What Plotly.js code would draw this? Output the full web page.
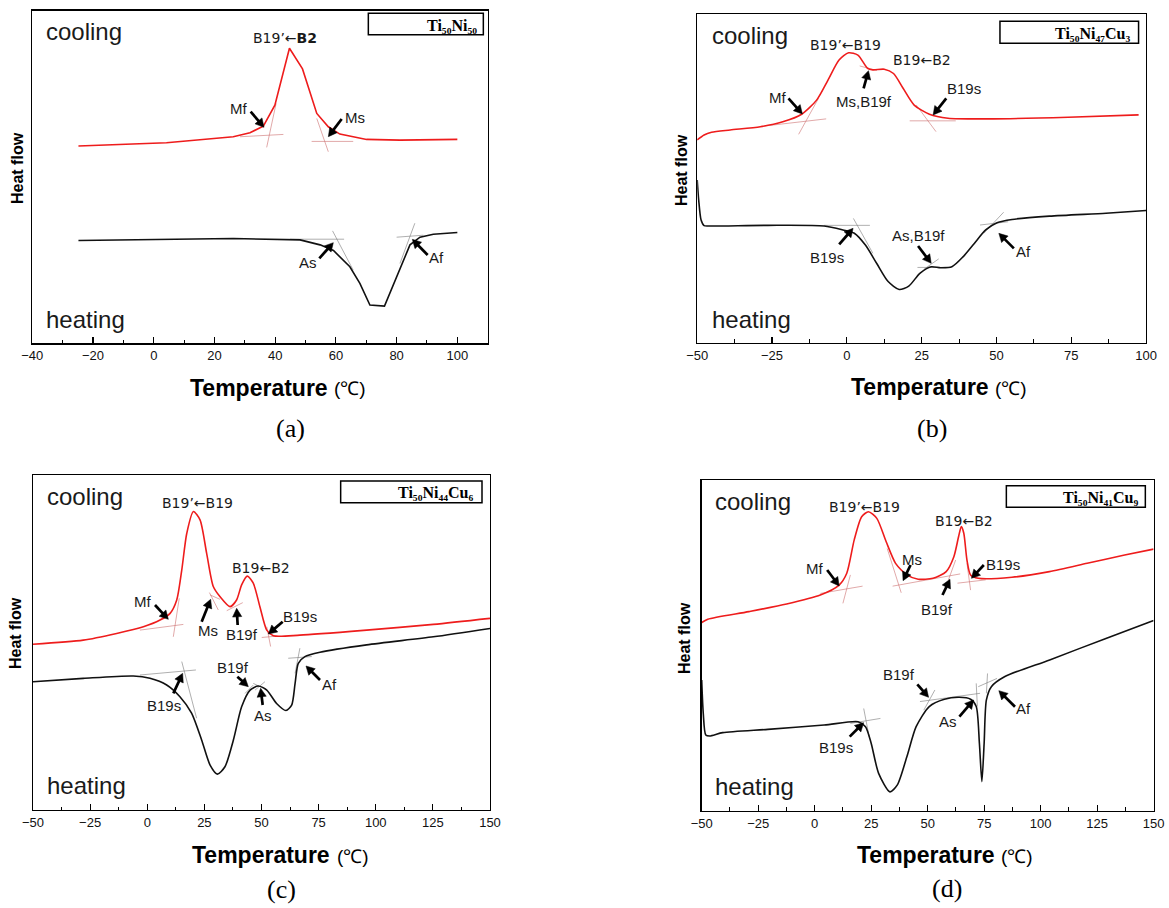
<!DOCTYPE html>
<html>
<head>
<meta charset="utf-8">
<script src="https://cdn.plot.ly/plotly-3.0.1.min.js"></script>
<style>html,body{margin:0;padding:0;background:#fff;}#chart{width:1169px;height:908px;}</style>
</head>
<body>
<div id="chart"></div>
<script>
// ---------------- DATA (temperature in °C, heat flow in arbitrary units 0-100) ----------------
// (a) Ti50Ni50
const aCoolT = [-24.8, 4.2, 26.2, 31.7, 36.1, 39.9, 44.7, 49.0, 53.7, 57.5, 61.3, 70.1, 81.1, 100];
const aCoolQ = [59.3, 60.3, 62.1, 63.3, 65.3, 71.6, 88.7, 82.5, 69.1, 65.1, 62.9, 61.3, 61.1, 61.3];
const aHeatT = [-24.8, 26.2, 48.2, 54.8, 59.2, 64.6, 67.9, 71.2, 76.0, 80.6, 84.4, 87.7, 92.1, 100];
const aHeatQ = [30.9, 31.5, 31.1, 29.6, 27.9, 23.0, 18.0, 11.5, 11.2, 21.0, 29.6, 31.9, 32.8, 33.3];

// (b) Ti50Ni47Cu3
const bCoolT = [-50, -47.7, -45.2, -39.0, -28.9, -21.4, -15.1, -10.1, -6.3, -2.6, 0.6, 3.7, 6.9, 8.7, 12.5, 15.6, 18.8, 22.5, 27.6, 33.8, 48.9, 74.0, 97.5];
const bCoolQ = [61.7, 63.2, 64.0, 64.7, 65.7, 67.2, 69.5, 73.8, 79.9, 86.0, 88.2, 87.5, 83.5, 83.0, 83.2, 81.9, 77.4, 72.3, 69.5, 68.3, 68.1, 68.6, 69.3];
const bHeatT = [-50, -49.5, -48.7, -47.7, -45.9, -26.4, -7.6, -1.3, 2.5, 6.2, 10.0, 13.8, 17.5, 20.7, 24.4, 28.2, 31.3, 35.1, 38.9, 42.6, 46.4, 50.2, 55.2, 67.7, 86.6, 100];
const bHeatQ = [49.5, 43.4, 37.3, 35.6, 35.5, 35.7, 35.5, 34.3, 33.3, 29.7, 24.1, 18.6, 16.2, 17.2, 21.1, 23.1, 22.8, 23.1, 26.2, 30.2, 34.3, 36.5, 37.5, 38.5, 39.4, 40.2];

// (c) Ti50Ni44Cu6
const cCoolT = [-50, -28.0, -13.4, -1.7, 5.6, 10.0, 12.9, 15.1, 17.3, 20.2, 23.1, 26.0, 28.9, 31.8, 36.2, 39.1, 41.3, 43.8, 46.4, 49.3, 52.3, 55.2, 66.8, 96.0, 125.2, 150];
const cCoolQ = [49.5, 50.7, 52.7, 54.7, 56.7, 58.7, 62.7, 71.6, 82.6, 89.1, 86.6, 76.6, 66.7, 63.7, 60.7, 62.7, 67.2, 69.8, 67.7, 60.7, 53.7, 52.0, 52.2, 53.7, 55.4, 57.2];
const cHeatT = [-50, -28.0, -6.1, 1.2, 8.5, 14.3, 19.4, 23.8, 27.5, 30.7, 34.0, 37.7, 41.3, 45.0, 48.6, 52.3, 56.6, 60.7, 63.2, 64.7, 66.1, 69.0, 75.6, 96.0, 125.2, 150];
const cHeatQ = [38.3, 39.3, 40.0, 39.3, 37.3, 33.8, 28.9, 20.9, 13.4, 10.7, 12.9, 20.9, 30.8, 35.8, 37.0, 35.8, 31.8, 29.7, 31.3, 37.8, 43.8, 45.8, 47.1, 49.3, 51.7, 54.2];

// (d) Ti50Ni41Cu9
const dCoolT = [-50, -47.3, -29.1, -12.4, 2.5, 10.8, 14.2, 17.5, 20.8, 23.8, 27.5, 31.6, 35.8, 40.8, 45.8, 52.4, 58.2, 61.6, 63.7, 64.9, 66.0, 67.4, 69.0, 72.4, 87.3, 103.9, 120.6, 137.2, 150];
const dCoolQ = [56.9, 57.9, 60.2, 62.5, 65.2, 68.2, 71.8, 81.9, 88.9, 90.4, 88.4, 81.4, 74.8, 71.3, 70.0, 70.3, 72.3, 76.8, 82.9, 85.9, 83.9, 75.8, 71.3, 70.3, 70.6, 72.3, 74.8, 77.3, 79.1];
const dHeatT = [-50, -49.3, -48.2, -46.5, -40.7, -20.7, 4.2, 19.2, 22.5, 25.0, 28.3, 33.3, 36.6, 40.8, 44.9, 50.7, 57.4, 64.0, 69.0, 71.5, 72.9, 74.0, 75.0, 76.0, 78.2, 84.0, 104.0, 128.9, 150];
const dHeatQ = [39.5, 29.4, 22.9, 22.6, 23.6, 24.6, 25.9, 26.9, 25.4, 20.4, 11.3, 5.7, 7.8, 16.3, 25.4, 31.5, 33.7, 34.3, 33.7, 31.5, 20.4, 8.8, 20.4, 33.5, 37.5, 40.5, 45.6, 52.1, 57.5];

// Onset tangent construction lines [T0, Q0, T1, Q1]
const aTanCool = [[28.4,62.1,42.7,62.8],[37.2,58.9,40.3,72.1],[52.0,60.7,65.7,60.7],[53.7,67.6,57.5,57.6]];
const aTanHeat = [[44.9,31.3,62.7,31.3],[58.9,33.8,65.7,22.0],[80.0,31.9,88.8,32.5],[86.0,36.1,81.1,24.0]];
const bTanCool = [[-27.7,65.9,-6.9,68.1],[-16.1,63.4,-9.5,74.3],[21.0,67.5,36.4,67.5],[23.2,72.3,29.8,64.2],[4.3,84.2,10.0,82.8]];
const bTanHeat = [[-7.6,35.7,7.7,35.7],[2.2,37.8,8.7,27.2],[23.6,22.9,33.2,22.9],[25.7,22.3,30.7,25.5],[44.5,35.8,53.9,36.8],[52.4,39.7,45.8,33.3]];
const cTanCool = [[-3.2,53.7,15.8,55.4],[11.4,51.7,14.0,63.2],[27.2,64.9,31.1,59.7],[27.5,64.2,31.8,62.9],[34.8,59.5,41.8,61.9],[50.1,51.5,56.6,51.9],[52.3,54.7,54.0,48.8]];
const cTanHeat = [[-3.2,40.3,21.3,41.8],[15.1,44.3,21.6,27.4],[42.8,34.8,46.4,37.3],[46.4,37.8,52.3,35.8],[47.2,35.8,51.5,38.3],[61.7,45.3,72.0,45.8],[64.7,40.8,66.8,48.3]];
const dTanCool = [[2.5,65.7,21.2,67.9],[12.5,62.7,15.8,71.3],[34.5,67.9,64.4,71.6],[32.1,79.3,38.3,65.9],[59.1,69.6,62.4,75.8],[63.2,68.8,75.7,69.8],[67.4,74.8,69.0,66.7]];
const dTanHeat = [[15.8,26.4,29.1,27.9],[21.7,30.9,24.1,22.4],[46.6,33.0,73.2,35.5],[48.3,30.4,53.2,36.5],[71.5,38.5,72.0,31.5],[72.4,37.5,80.7,40.0],[76.5,41.5,76.0,35.5]];

// Text labels
const alloyNames = ['Ti₅₀Ni₅₀','Ti₅₀Ni₄₇Cu₃','Ti₅₀Ni₄₄Cu₆','Ti₅₀Ni₄₁Cu₉'];
const panelLetters = ['(a)','(b)','(c)','(d)'];
const xTitleMain = 'Temperature', xTitleUnit = '(℃)';
const yTitle = 'Heat flow';

// ---------------- LAYOUT HELPERS ----------------
const W = 1169, H = 908;
const panels = ['a','b','c','d'];
// plot-area boxes in page pixels [left, top, right, bottom]
const box = {a:[32.3,10.7,487.7,343.3], b:[697.2,14,1146.1,342.7], c:[33,475,490,810], d:[701.7,480,1153.6,810.7]};
const xr = {a:[-40,110], b:[-50,100], c:[-50,150], d:[-50,150]};
const dt = {a:20, b:25, c:25, d:25};
// local placement frames (origin + scale) used for label positions
const Z = {a:{ox:0,oy:0,sx:3,sy:3}, b:{ox:580,oy:0,sx:1568/589,sy:3}, c:{ox:0,oy:460,sx:3,sy:3}, d:{ox:580,oy:460,sx:1568/589,sy:3}};
function P(p,zx,zy){const z=Z[p];return [z.ox+zx/z.sx, z.oy+zy/z.sy];}

const labelPos = {
  a:{peaks:[['B19’←<b>B2</b>',855,115]],
     labels:[['Mf',715,325],['Ms',1066,352],['As',925,788],['Af',1310,773]],
     arrows:[[752,335,792,382],[1025,357,985,410],[958,775,1000,728],[1283,765,1237,718]],
     cool:[133,95], heat:[133,958], leg:[1105,40,1450,104,1437]},
  b:{peaks:[['B19’←B19',708,135],['B19←B2',910,180]],
     labels:[['Mf',525,292],['Ms,B19f',757,305],['B19s',1022,265],['B19s',657,773],['As,B19f',900,706],['Af',1180,755]],
     arrows:[[555,295,592,342],[755,265,768,212],[975,295,940,345],[690,733,727,685],[900,738,935,790],[1155,745,1115,700]],
     cool:[345,105], heat:[345,958], leg:[1118,64,1487,130,1470]},
  c:{peaks:[['B19’←B19',593,128],['B19←B2',783,323]],
     labels:[['Mf',428,425],['Ms',625,510],['B19f',727,522],['B19s',900,468],['B19s',493,737],['B19f',700,623],['As',790,765],['Af',990,672]],
     arrows:[[465,435,505,478],[605,485,632,418],[713,495,710,445],[848,485,805,522],[520,700,548,640],[712,650,745,680],[788,735,782,685],[960,660,918,618]],
     cool:[135,110], heat:[135,975], leg:[1022,63,1446,128,1425]},
  d:{peaks:[['B19’←B19',757,140],['B19←B2',1022,183]],
     labels:[['Mf',625,325],['Ms',885,298],['B19f',950,448],['B19s',1125,313],['B19s',682,862],['B19f',850,643],['As',980,783],['Af',1180,745]],
     arrows:[[658,330,690,378],[880,315,860,362],[965,405,985,358],[1075,315,1042,355],[718,830,755,788],[898,673,928,712],[1010,770,1048,720],[1158,740,1115,692]],
     cool:[355,125], heat:[355,980], leg:[1135,77,1505,142,1490]}
};
// [right edge of "Temperature", left edge of "(℃)", centre y] in page pixels
const xTitlePos = {a:[330,332,388], b:[991,993,387], c:[332,335,855], d:[997,999,855]};
const yTitlePos = {a:[17,168], b:[681,170], c:[15,633], d:[684,638]};
const letterPos = {a:[290,428], b:[932,428], c:[281,889], d:[947,888]};

const curves = {
  a:[aCoolT,aCoolQ,aHeatT,aHeatQ,aTanCool,aTanHeat,'linear'],
  b:[bCoolT,bCoolQ,bHeatT,bHeatQ,bTanCool,bTanHeat,'spline'],
  c:[cCoolT,cCoolQ,cHeatT,cHeatQ,cTanCool,cTanHeat,'spline'],
  d:[dCoolT,dCoolQ,dHeatT,dHeatQ,dTanCool,dTanHeat,'spline']
};

const SANS = 'Liberation Sans, Arial, sans-serif';
const PEAKF = 'DejaVu Sans, Liberation Sans, sans-serif';
const SERIF = 'Liberation Serif, DejaVu Serif, Times New Roman, serif';
const traces = [], annotations = [], shapes = [];
const layout = {width:W, height:H, margin:{l:0,r:0,t:0,b:0}, showlegend:false,
  paper_bgcolor:'#fff', plot_bgcolor:'#fff', annotations, shapes};

function tanXY(list){const x=[],y=[];list.forEach(s=>{x.push(s[0],s[2],null);y.push(s[1],s[3],null);});return [x,y];}
const fx = v => (v/W).toFixed(5), fy = v => (1-v/H).toFixed(5);
// bold arrow drawn as shaft + filled head (page pixel geometry -> paper coordinates)
function arrowShapes(t,h){
  const dx=h[0]-t[0], dy=h[1]-t[1], len=Math.hypot(dx,dy), ux=dx/len, uy=dy/len;
  const HL=8.5, HW=4.6;
  const bx=h[0]-ux*HL, by=h[1]-uy*HL;
  const sx=h[0]-ux*(HL-1), sy=h[1]-uy*(HL-1);
  shapes.push({type:'line',xref:'paper',yref:'paper',x0:t[0]/W,y0:1-t[1]/H,x1:sx/W,y1:1-sy/H,line:{color:'#000',width:2.7},layer:'above'});
  const p1=[bx-uy*HW, by+ux*HW], p2=[bx+uy*HW, by-ux*HW];
  shapes.push({type:'path',xref:'paper',yref:'paper',
    path:`M ${fx(h[0])} ${fy(h[1])} L ${fx(p1[0])} ${fy(p1[1])} L ${fx(p2[0])} ${fy(p2[1])} Z`,
    fillcolor:'#000',line:{color:'#000',width:0.5},layer:'above'});
}

panels.forEach((p,i)=>{
  const n = i===0?'':String(i+1);
  const xa='x'+n, ya='y'+n;
  const b = box[p];
  layout['xaxis'+n] = {domain:[b[0]/W, b[2]/W], range:xr[p], anchor:ya,
    showline:true, mirror:true, linecolor:'#000', linewidth:1.3,
    ticks:'inside', ticklen:6, tickwidth:1.1, tickcolor:'#000', tick0:0, dtick:dt[p],
    minor:{ticks:'inside', ticklen:3.5, tickwidth:1, tickcolor:'#000', dtick:dt[p]/2, showgrid:false},
    showgrid:false, zeroline:false, tickfont:{family:SANS, size:13, color:'#111'}, fixedrange:true};
  layout['yaxis'+n] = {domain:[1-b[3]/H, 1-b[1]/H], range:[0,100], anchor:xa,
    showline:true, mirror:true, linecolor:'#000', linewidth:1.3,
    showticklabels:false, ticks:'', showgrid:false, zeroline:false, fixedrange:true};

  const c = curves[p];
  const tc = tanXY(c[4]), th = tanXY(c[5]);
  traces.push({x:tc[0], y:tc[1], xaxis:xa, yaxis:ya, mode:'lines', line:{color:'rgba(205,110,110,0.75)', width:0.8}, hoverinfo:'skip'});
  traces.push({x:th[0], y:th[1], xaxis:xa, yaxis:ya, mode:'lines', line:{color:'rgba(120,120,120,0.75)', width:0.8}, hoverinfo:'skip'});
  traces.push({x:c[0], y:c[1], xaxis:xa, yaxis:ya, mode:'lines', line:{color:'#ee1c1c', width:1.6, shape:c[6], smoothing:0.7}});
  traces.push({x:c[2], y:c[3], xaxis:xa, yaxis:ya, mode:'lines', line:{color:'#111', width:1.6, shape:c[6], smoothing:0.7}});

  const L = labelPos[p];
  const txt = (px,py,text,size,opt)=>annotations.push(Object.assign({xref:'paper',yref:'paper',x:px/W,y:1-py/H,text:text,showarrow:false,
     xanchor:'center',yanchor:'middle',font:{family:SANS,size:size,color:'#1a1a1a'}},opt||{}));
  L.peaks.forEach(s=>{const q=P(p,s[1],s[2]);txt(q[0],q[1],s[0],14,{font:{family:PEAKF,size:14,color:'#1a1a1a'}});});
  L.labels.forEach(s=>{const q=P(p,s[1],s[2]);txt(q[0],q[1],s[0],15);});
  L.arrows.forEach(s=>arrowShapes(P(p,s[0],s[1]), P(p,s[2],s[3])));
  let q=P(p,L.cool[0],L.cool[1]); txt(q[0],q[1],'cooling',24,{xanchor:'left'});
  q=P(p,L.heat[0],L.heat[1]); txt(q[0],q[1],'heating',24,{xanchor:'left'});
  const l0=P(p,L.leg[0],L.leg[1]), l1=P(p,L.leg[2],L.leg[3]), lt=P(p,L.leg[4],(L.leg[1]+L.leg[3])/2);
  shapes.push({type:'rect',xref:'paper',yref:'paper',x0:l0[0]/W,x1:l1[0]/W,y0:1-l1[1]/H,y1:1-l0[1]/H,line:{color:'#000',width:1.5},fillcolor:'#fff',layer:'above'});
  txt(lt[0],lt[1]+1,'<b>'+alloyNames[i]+'</b>',16,{xanchor:'right',font:{family:SERIF,size:16,color:'#000'}});
  const xt = xTitlePos[p];
  txt(xt[0],xt[2],'<b>'+xTitleMain+'</b>',23,{xanchor:'right',font:{family:SANS,size:23,color:'#000'}});
  txt(xt[1],xt[2]+1,xTitleUnit,19,{xanchor:'left',font:{family:SANS,size:19,color:'#000'}});
  txt(yTitlePos[p][0],yTitlePos[p][1],'<b>'+yTitle+'</b>',16,{textangle:-90,font:{family:SANS,size:16,color:'#000'}});
  txt(letterPos[p][0],letterPos[p][1],panelLetters[i],26,{font:{family:SERIF,size:26,color:'#000'}});
});

Plotly.newPlot('chart', traces, layout, {displayModeBar:false, staticPlot:true});
</script>
</body>
</html>
